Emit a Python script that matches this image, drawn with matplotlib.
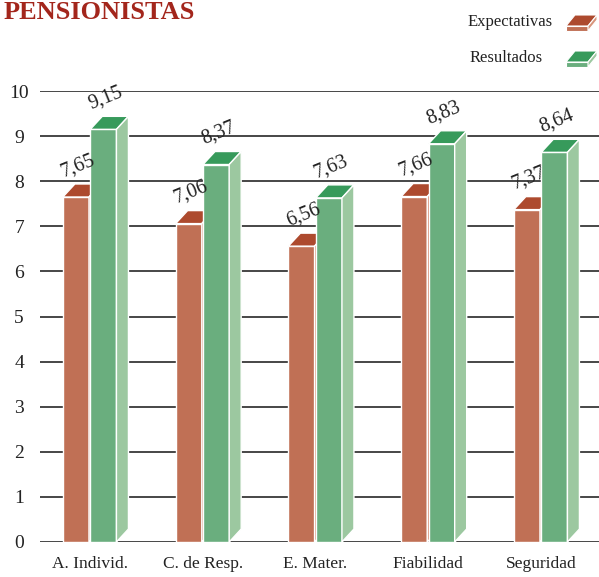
import numpy as np
import matplotlib
matplotlib.use("Agg")
import matplotlib.pyplot as plt
from matplotlib.patches import Polygon

# datos
categorias = ["A. Individ.", "C. de Resp.", "E. Mater.", "Fiabilidad", "Seguridad"]
expectativas = [7.65, 7.06, 6.56, 7.66, 7.37]
resultados = [9.15, 8.37, 7.63, 8.83, 8.64]
ticks_y = [0, 1, 2, 3, 4, 5, 6, 7, 8, 9, 10]

plt.rcParams['font.family'] = ['Liberation Serif', 'DejaVu Serif']

# colores de las caras (frente, arriba, lado)
col_exp = ("#c07055", "#ad4a2e", "#d8957c")
col_res = ("#6aae7e", "#379a5b", "#9cc8a0")

W, H = 599, 577
fig = plt.figure(figsize=(W / 100, H / 100), dpi=100)

# ejes principales en pixeles de referencia
left, right, y0, y10 = 40, 599, 542, 91
ax = fig.add_axes([left / W, (H - y0) / H, (right - left) / W, (y0 - y10) / H])
ax.set_xlim(-0.443, 4.515)
ax.set_ylim(0, 10)

px_x = (right - left) / 4.958   # pixeles por unidad x
px_y = (y0 - y10) / 10.0        # pixeles por unidad y
dx = 12 / px_x
dy = 13 / px_y
ancho = 0.232

x = np.arange(len(categorias))


def barra3d(xl, v, cols):
    ax.bar(xl, v, width=ancho, align="edge", color=cols[0], edgecolor="white",
           linewidth=1.0, zorder=3)
    xr = xl + ancho
    top = Polygon([(xl, v), (xr, v), (xr + dx, v + dy), (xl + dx, v + dy)],
                  closed=True, facecolor=cols[1], edgecolor="white", lw=1.0,
                  zorder=3, clip_on=False)
    side = Polygon([(xr, 0), (xr + dx, dy), (xr + dx, v + dy), (xr, v)],
                   closed=True, facecolor=cols[2], edgecolor="white", lw=1.0,
                   zorder=3, clip_on=False)
    ax.add_patch(top)
    ax.add_patch(side)


for i in range(len(categorias)):
    barra3d(x[i] - 0.240, expectativas[i], col_exp)
    barra3d(x[i] + 0.003, resultados[i], col_res)

for i in range(len(categorias)):
    for xl, v in ((x[i] - 0.240, expectativas[i]), (x[i] + 0.003, resultados[i])):
        ax.text(xl + ancho / 2 + 0.02, v + 0.69, ("%.2f" % v).replace(".", ","),
                ha="center", va="center", rotation=22, fontsize=14.5,
                color="#222222", zorder=5)

# rejilla
for t in ticks_y:
    ax.axhline(t, color="#383838", lw=1.3, zorder=1)

for s in ax.spines.values():
    s.set_visible(False)
ax.set_yticks(ticks_y)
ax.set_yticklabels([str(t) for t in ticks_y], fontsize=14, color="#222222")
for lab in ax.get_yticklabels():
    lab.set_horizontalalignment("center")
ax.tick_params(axis="y", length=0, pad=15)
ax.set_xticks(x)
ax.set_xticklabels(categorias, fontsize=12.5, color="#222222")
ax.tick_params(axis="x", length=0, pad=10)

# capa superior en pixeles para titulo y leyenda
ov = fig.add_axes([0, 0, 1, 1])
ov.set_xlim(0, W)
ov.set_ylim(H, 0)
ov.axis("off")

ov.text(4, 19, "PENSIONISTAS", fontsize=19, fontweight="bold", color="#a3261c",
        ha="left", va="baseline")


def muestra(x0, yb, cols):
    w, h, ddx, ddy = 22, 5, 9, 11
    ov.add_patch(Polygon([(x0, yb), (x0 + w, yb), (x0 + w, yb - h), (x0, yb - h)],
                         facecolor=cols[0], edgecolor="white", lw=0.8))
    ov.add_patch(Polygon([(x0, yb - h), (x0 + w, yb - h), (x0 + w + ddx, yb - h - ddy),
                          (x0 + ddx, yb - h - ddy)],
                         facecolor=cols[1], edgecolor="white", lw=0.8))
    ov.add_patch(Polygon([(x0 + w, yb), (x0 + w + ddx, yb - ddy), (x0 + w + ddx, yb - h - ddy),
                          (x0 + w, yb - h)],
                         facecolor=cols[2], edgecolor="white", lw=0.8))


ov.text(553, 22, "Expectativas", fontsize=12, color="#222222", ha="right", va="center")
muestra(566, 31, col_exp)
ov.text(543, 58, "Resultados", fontsize=12, color="#222222", ha="right", va="center")
muestra(566, 67, col_res)

fig.savefig("out.png", dpi=100)
